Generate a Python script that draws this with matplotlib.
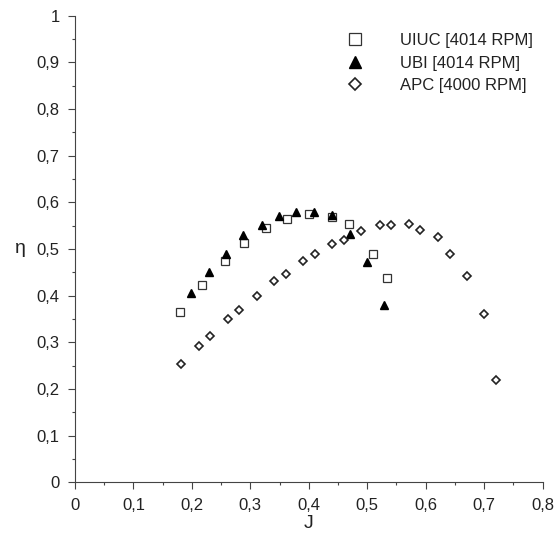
import matplotlib
matplotlib.use('Agg')
import matplotlib.pyplot as plt
from matplotlib.ticker import MultipleLocator, FuncFormatter

plt.rcParams['font.family'] = ['Liberation Sans', 'DejaVu Sans']

# data
uiuc_J = [0.179, 0.217, 0.256, 0.289, 0.327, 0.362, 0.400, 0.439, 0.468, 0.509, 0.534]
uiuc_eta = [0.365, 0.422, 0.474, 0.512, 0.545, 0.564, 0.575, 0.569, 0.554, 0.490, 0.438]

ubi_J = [0.199, 0.230, 0.259, 0.288, 0.320, 0.349, 0.378, 0.409, 0.439, 0.470, 0.499, 0.529]
ubi_eta = [0.405, 0.451, 0.489, 0.529, 0.551, 0.571, 0.579, 0.579, 0.573, 0.532, 0.473, 0.381]

apc_J = [0.181, 0.212, 0.231, 0.261, 0.281, 0.311, 0.341, 0.361, 0.390, 0.410, 0.440,
         0.460, 0.490, 0.521, 0.540, 0.571, 0.590, 0.621, 0.641, 0.671, 0.699, 0.721]
apc_eta = [0.254, 0.292, 0.314, 0.349, 0.369, 0.399, 0.431, 0.447, 0.474, 0.489, 0.511,
           0.519, 0.539, 0.552, 0.552, 0.554, 0.541, 0.526, 0.490, 0.443, 0.360, 0.219]

labels = ['UIUC [4014 RPM]', 'UBI [4014 RPM]', 'APC [4000 RPM]']

fig = plt.figure(figsize=(5.56, 5.40), dpi=100)
ax = fig.add_axes([0.1349, 0.1069, 0.841, 0.864])

ax.plot(uiuc_J, uiuc_eta, 's', markersize=5.2, markerfacecolor='white',
        markeredgecolor='#333333', markeredgewidth=0.9, linestyle='none', label=labels[0])
ax.plot(ubi_J, ubi_eta, '^', markersize=5.8, color='black', linestyle='none', label=labels[1])
ax.plot(apc_J, apc_eta, 'D', markersize=3.7, markerfacecolor='white',
        markeredgecolor='#222222', markeredgewidth=1.2, linestyle='none', label=labels[2])

ax.set_xlim(0, 0.8)
ax.set_ylim(0, 1)

ax.spines['top'].set_visible(False)
ax.spines['right'].set_visible(False)
for s in ['left', 'bottom']:
    ax.spines[s].set_color('#444444')
    ax.spines[s].set_linewidth(0.8)

ax.xaxis.set_major_locator(MultipleLocator(0.1))
ax.xaxis.set_minor_locator(MultipleLocator(0.05))
ax.yaxis.set_major_locator(MultipleLocator(0.1))
ax.yaxis.set_minor_locator(MultipleLocator(0.05))

comma = FuncFormatter(lambda v, pos: ('%g' % round(v, 2)).replace('.', ','))
ax.xaxis.set_major_formatter(comma)
ax.yaxis.set_major_formatter(comma)

ax.tick_params(which='major', length=5, width=0.8, color='#444444', labelsize=12,
               labelcolor='#222222', pad=6)
ax.tick_params(which='minor', length=2.5, width=0.8, color='#444444')

ax.set_xlabel('J', fontsize=14, color='#222222', labelpad=2)
ax.set_ylabel('η', fontsize=14, color='#222222', rotation=0, labelpad=12, va='center')

ax.legend(loc='upper left', bbox_to_anchor=(346.7 / 556, 1 - 33 / 540),
          bbox_transform=fig.transFigure, frameon=False, fontsize=12,
          handlelength=1.0, handletextpad=2.2, labelspacing=0.46, markerscale=1.6,
          borderpad=0, borderaxespad=0, labelcolor='#222222')

fig.savefig('out.png', dpi=100)
